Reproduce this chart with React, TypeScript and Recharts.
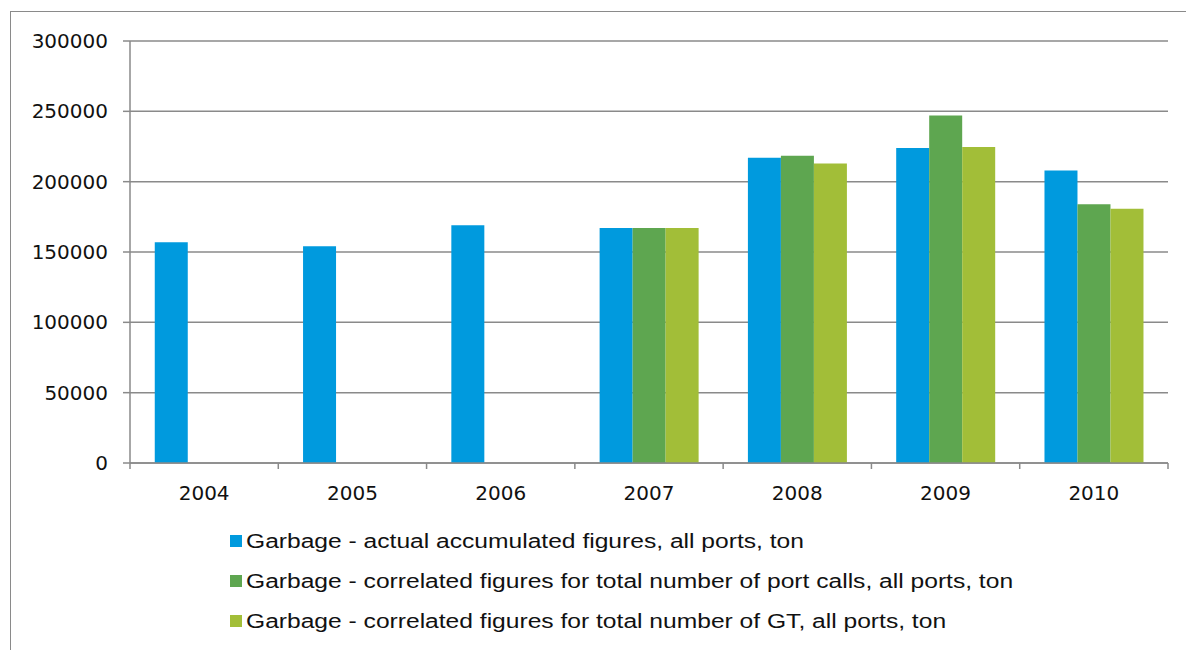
import React from "react";
import {
  BarChart,
  Bar,
  XAxis,
  YAxis,
  CartesianGrid,
  Legend
} from "recharts";

const years = ["2004", "2005", "2006", "2007", "2008", "2009", "2010"];
// actual accumulated figures (ton)
const actual = [157000, 154000, 169000, 167000, 217000, 224000, 208000];
// correlated to number of port calls (ton), only from 2007
const byPortCalls = [null, null, null, 167000, 218500, 247000, 184000];
// correlated to GT (ton), only from 2007
const byGT = [null, null, null, 167000, 213000, 224700, 180700];
const yTicks = [0, 50000, 100000, 150000, 200000, 250000, 300000];

const seriesNames = [
  "Garbage - actual accumulated figures, all ports, ton",
  "Garbage - correlated figures for total number of port calls, all ports, ton",
  "Garbage - correlated figures for total number of GT, all ports, ton"
];
const colors = ["#009ADE", "#5EA650", "#A2BE38"];

const FONT = "'DejaVu Sans', Verdana, sans-serif";
const LEGEND_FONT = "'Liberation Sans', Arial, sans-serif";
const AXIS_GREY = "#8a8a8a";

const data = years.map((y, i) => ({
  year: y,
  actual: actual[i],
  portCalls: byPortCalls[i],
  gt: byGT[i]
}));

// Excel-style x ticks: tick marks sit on the category boundaries
const YearTick = (props: any) => {
  const { x, y, payload, index } = props;
  const half = payload.offset || 0;
  const axisY = y - 23;
  return (
    <g>
      <line x1={x - half} x2={x - half} y1={axisY} y2={axisY + 6} stroke={AXIS_GREY} strokeWidth={1.5} />
      {index === years.length - 1 && (
        <line x1={x + half} x2={x + half} y1={axisY} y2={axisY + 6} stroke={AXIS_GREY} strokeWidth={1.5} />
      )}
      <text x={x} y={y} dy="0.71em" textAnchor="middle" fill="#111" fontSize={20} fontFamily={FONT}>
        {payload.value}
      </text>
    </g>
  );
};

// the source picture is a bit stretched sideways, so the legend text is too
const LegendBox = () => (
  <div style={{ fontFamily: LEGEND_FONT, fontSize: 20, color: "#111", whiteSpace: "nowrap" }}>
    {seriesNames.map((name, i) => (
      <div key={name} style={{ display: "flex", alignItems: "center", height: 40 }}>
        <span style={{ width: 12, height: 12, background: colors[i], marginRight: 4, display: "inline-block" }} />
        <span style={{ display: "inline-block", transform: "scaleX(1.23)", transformOrigin: "left center" }}>
          {name}
        </span>
      </div>
    ))}
  </div>
);

export default function App() {
  return (
    <div style={{ position: "relative", width: 1186, height: 650, background: "#fff", overflow: "hidden" }}>
      <style>{`body{margin:0;}`}</style>
      <div
        style={{
          position: "absolute",
          left: 10,
          top: 11,
          right: -5,
          bottom: -5,
          borderTop: `1.5px solid ${AXIS_GREY}`,
          borderLeft: `1.5px solid ${AXIS_GREY}`
        }}
      />
      <BarChart
        width={1186}
        height={650}
        data={data}
        margin={{ top: 41, right: 18, bottom: 0, left: 0 }}
        barCategoryGap="16.7%"
        barGap={0}
      >
        <CartesianGrid vertical={false} stroke={AXIS_GREY} strokeWidth={1.5} />
        <XAxis
          dataKey="year"
          height={187}
          tickSize={6}
          tickMargin={17}
          tickLine={false}
          axisLine={{ stroke: AXIS_GREY, strokeWidth: 1.5 }}
          tick={<YearTick />}
          interval={0}
        />
        <YAxis
          width={130}
          domain={[0, 300000]}
          ticks={yTicks}
          interval={0}
          tickSize={7}
          tickMargin={15}
          tickLine={{ stroke: AXIS_GREY, strokeWidth: 1.5 }}
          axisLine={{ stroke: AXIS_GREY, strokeWidth: 1.5 }}
          tick={{ fill: "#111", fontSize: 20, fontFamily: FONT }}
        />
        <Legend
          layout="horizontal"
          verticalAlign="middle"
          align="center"
          content={<LegendBox />}
          wrapperStyle={{ left: 230, top: 521, width: "auto" }}
        />
        <Bar dataKey="actual" name={seriesNames[0]} fill={colors[0]} isAnimationActive={false} />
        <Bar dataKey="portCalls" name={seriesNames[1]} fill={colors[1]} isAnimationActive={false} />
        <Bar dataKey="gt" name={seriesNames[2]} fill={colors[2]} isAnimationActive={false} />
      </BarChart>
    </div>
  );
}
